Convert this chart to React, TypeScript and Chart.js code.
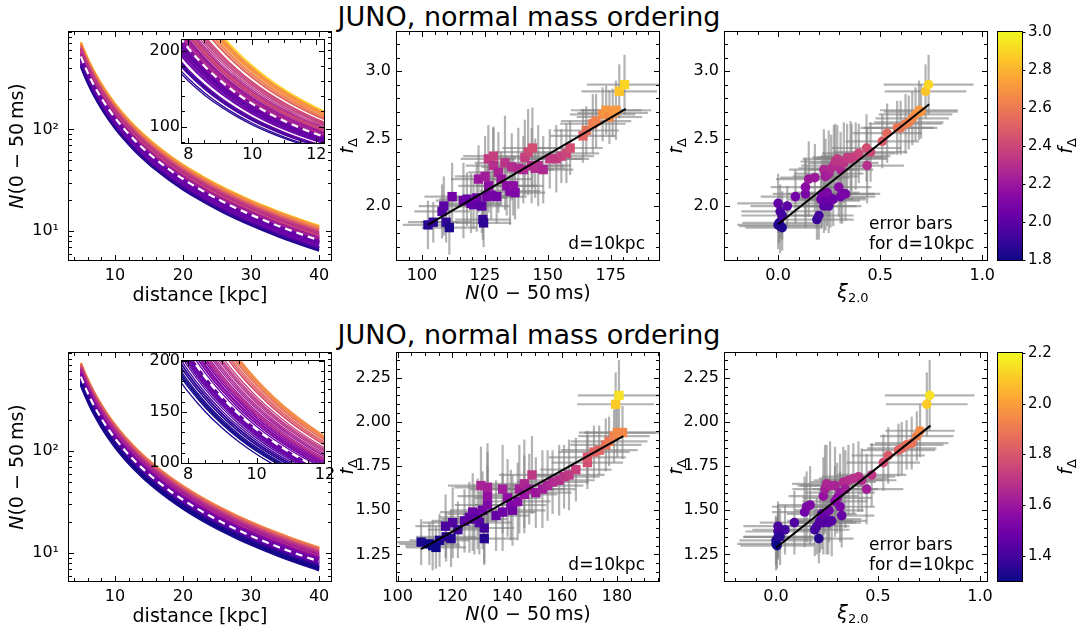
import React, { useEffect, useRef } from 'react';
import { Chart, registerables } from 'chart.js';

Chart.register(...registerables);
const FONT = "'DejaVu Sans', 'Liberation Sans', sans-serif";
Chart.defaults.font.family = FONT;
Chart.defaults.color = '#000';

// ================= DATA: top row (f_Delta range 1.8 - 3.0) =================
const TOP_N = [102.4, 104.5, 108.0, 108.7, 112.0, 109.6, 110.9, 116.5, 117.9, 119.5, 120.5, 121.8, 123.8, 125.8, 127.5, 129.7, 124.2, 124.5, 122.5, 125.1, 126.5, 126.4, 128.4, 128.4, 130.4, 131.5, 133.0, 133.7, 135.7, 135.0, 137.0, 136.3, 138.3, 140.9, 142.2, 143.9, 140.3, 143.6, 145.0, 146.2, 148.2, 150.8, 153.4, 155.4, 157.4, 158.9, 164.0, 165.3, 167.9, 169.2, 171.8, 173.2, 174.5, 175.8, 177.1, 178.4, 180.5];
const TOP_F = [1.86, 1.88, 1.96, 2.00, 2.07, 1.88, 1.84, 2.04, 2.05, 2.02, 2.01, 2.06, 2.00, 2.07, 2.08, 2.07, 1.90, 1.875, 2.20, 2.22, 2.15, 2.35, 2.37, 2.30, 2.25, 2.20, 2.32, 2.15, 2.29, 2.11, 2.10, 2.15, 2.28, 2.36, 2.40, 2.43, 2.27, 2.30, 2.28, 2.30, 2.27, 2.35, 2.35, 2.37, 2.39, 2.43, 2.52, 2.56, 2.61, 2.63, 2.68, 2.71, 2.66, 2.69, 2.71, 2.85, 2.90];
const TOP_N_ERR = [10, 10, 11, 10, 11, 10, 11, 11, 11, 12, 11, 12, 11, 12, 11, 12, 11, 11, 11, 12, 12, 11, 12, 11, 12, 12, 12, 12, 12, 12, 12, 12, 12, 12, 13, 12, 12, 13, 12, 13, 12, 13, 13, 13, 13, 13, 13, 13, 13, 14, 13, 14, 13, 14, 14, 15, 15];
const TOP_F_ERR = [0.18, 0.15, 0.2, 0.22, 0.25, 0.15, 0.2, 0.28, 0.2, 0.22, 0.18, 0.25, 0.2, 0.22, 0.18, 0.2, 0.15, 0.18, 0.25, 0.3, 0.2, 0.25, 0.22, 0.28, 0.3, 0.2, 0.35, 0.22, 0.25, 0.25, 0.2, 0.22, 0.3, 0.28, 0.32, 0.3, 0.25, 0.28, 0.22, 0.3, 0.25, 0.22, 0.25, 0.2, 0.22, 0.2, 0.2, 0.18, 0.22, 0.2, 0.2, 0.18, 0.2, 0.18, 0.22, 0.2, 0.22];
const TOP_XI = [0.00, 0.005, 0.01, 0.02, 0.00, 0.01, 0.02, 0.045, 0.085, 0.134, 0.134, 0.15, 0.18, 0.19, 0.20, 0.21, 0.215, 0.224, 0.232, 0.248, 0.257, 0.24, 0.224, 0.232, 0.248, 0.273, 0.29, 0.297, 0.306, 0.314, 0.33, 0.306, 0.322, 0.338, 0.355, 0.38, 0.395, 0.433, 0.436, 0.453, 0.51, 0.534, 0.583, 0.60, 0.624, 0.64, 0.657, 0.673, 0.69, 0.70, 0.722, 0.737, 0.26, 0.28, 0.36, 0.27];
const TOP_FXI = [1.86, 1.875, 1.85, 1.84, 2.02, 1.96, 1.93, 2.00, 2.07, 2.09, 2.14, 2.20, 2.21, 1.90, 1.93, 2.05, 2.09, 2.00, 2.04, 2.00, 2.06, 2.10, 2.27, 2.22, 2.24, 2.30, 2.35, 2.14, 2.07, 2.09, 2.09, 2.27, 2.32, 2.36, 2.35, 2.37, 2.39, 2.43, 2.30, 2.40, 2.48, 2.54, 2.58, 2.58, 2.61, 2.62, 2.65, 2.68, 2.71, 2.70, 2.85, 2.90, 2.28, 2.33, 2.36, 2.05];
const TOP_XI_ERR = [0.2, 0.18, 0.2, 0.18, 0.2, 0.19, 0.2, 0.18, 0.17, 0.16, 0.17, 0.16, 0.17, 0.18, 0.17, 0.16, 0.17, 0.16, 0.17, 0.16, 0.17, 0.16, 0.17, 0.16, 0.17, 0.16, 0.17, 0.16, 0.17, 0.16, 0.17, 0.16, 0.17, 0.17, 0.18, 0.17, 0.18, 0.17, 0.18, 0.18, 0.18, 0.17, 0.18, 0.18, 0.18, 0.17, 0.18, 0.18, 0.19, 0.18, 0.2, 0.22, 0.16, 0.17, 0.17, 0.16];
const TOP_FXI_ERR = [0.18, 0.15, 0.2, 0.17, 0.22, 0.2, 0.18, 0.15, 0.2, 0.25, 0.22, 0.28, 0.25, 0.15, 0.18, 0.22, 0.25, 0.2, 0.22, 0.2, 0.22, 0.25, 0.3, 0.28, 0.32, 0.3, 0.25, 0.22, 0.2, 0.22, 0.2, 0.28, 0.3, 0.25, 0.28, 0.25, 0.22, 0.25, 0.28, 0.22, 0.2, 0.22, 0.2, 0.2, 0.22, 0.2, 0.2, 0.2, 0.22, 0.2, 0.2, 0.22, 0.25, 0.28, 0.25, 0.2];
const TOP_FIT_N = [102.4, 181.0];
const TOP_FIT_F = [1.86, 2.72];
const TOP_FIT_XI = [0.0, 0.74];
const TOP_FIT_FXI = [1.865, 2.755];
const TOP_MEAN_N10 = 130;
const TOP_CRANGE = [1.8, 3.0];

// ================= DATA: bottom row (f_Delta range 1.3 - 2.2) =================
const BOT_N = [108.6, 111.6, 112.8, 115.3, 117.7, 119.5, 117.5, 120.1, 124.4, 126.2, 127.4, 129.2, 131.0, 129.8, 131.6, 131.6, 132.8, 132.8, 130.4, 132.8, 135.9, 138.3, 138.3, 140.1, 141.3, 141.9, 143.8, 144.4, 146.2, 146.2, 149.0, 148.0, 150.4, 152.8, 154.7, 156.5, 158.9, 160.7, 162.5, 165.0, 169.2, 169.2, 171.6, 173.5, 175.9, 177.1, 178.9, 180.1, 182.0, 179.5, 180.7, 114.0, 122.0, 128.0];
const BOT_F = [1.32, 1.31, 1.30, 1.33, 1.35, 1.34, 1.41, 1.43, 1.44, 1.46, 1.49, 1.48, 1.50, 1.43, 1.40, 1.34, 1.53, 1.58, 1.64, 1.63, 1.47, 1.49, 1.62, 1.57, 1.53, 1.50, 1.55, 1.62, 1.59, 1.65, 1.70, 1.62, 1.60, 1.62, 1.64, 1.66, 1.67, 1.69, 1.70, 1.73, 1.77, 1.80, 1.83, 1.84, 1.87, 1.89, 1.92, 1.94, 1.94, 2.10, 2.15, 1.29, 1.39, 1.45];
const BOT_N_ERR = [10, 11, 10, 11, 11, 11, 11, 11, 12, 11, 12, 11, 12, 12, 11, 12, 12, 11, 12, 12, 12, 12, 12, 12, 13, 12, 12, 13, 12, 13, 12, 13, 13, 12, 13, 13, 13, 13, 13, 13, 13, 14, 13, 14, 13, 14, 13, 14, 14, 14, 15, 11, 11, 12];
const BOT_F_ERR = [0.13, 0.12, 0.14, 0.15, 0.14, 0.16, 0.18, 0.2, 0.18, 0.2, 0.22, 0.2, 0.22, 0.18, 0.2, 0.15, 0.22, 0.25, 0.22, 0.25, 0.2, 0.22, 0.25, 0.22, 0.2, 0.2, 0.22, 0.25, 0.22, 0.25, 0.22, 0.2, 0.2, 0.22, 0.2, 0.18, 0.2, 0.18, 0.2, 0.18, 0.15, 0.15, 0.15, 0.14, 0.15, 0.14, 0.15, 0.14, 0.15, 0.18, 0.2, 0.12, 0.16, 0.2];
const BOT_XI = [0.00, 0.00, 0.01, 0.01, 0.01, 0.02, 0.044, 0.09, 0.14, 0.15, 0.167, 0.19, 0.20, 0.21, 0.215, 0.224, 0.232, 0.248, 0.256, 0.273, 0.232, 0.24, 0.248, 0.265, 0.289, 0.289, 0.314, 0.322, 0.314, 0.33, 0.355, 0.379, 0.404, 0.42, 0.444, 0.469, 0.526, 0.55, 0.60, 0.616, 0.64, 0.665, 0.69, 0.706, 0.739, 0.753, 0.005, 0.26, 0.30, 0.34];
const BOT_FXI = [1.31, 1.33, 1.35, 1.38, 1.41, 1.35, 1.39, 1.43, 1.49, 1.52, 1.53, 1.39, 1.41, 1.34, 1.44, 1.48, 1.43, 1.45, 1.43, 1.44, 1.58, 1.62, 1.65, 1.64, 1.64, 1.55, 1.52, 1.47, 1.60, 1.66, 1.67, 1.68, 1.69, 1.67, 1.62, 1.70, 1.77, 1.81, 1.84, 1.85, 1.87, 1.88, 1.92, 1.95, 2.10, 2.15, 1.30, 1.50, 1.57, 1.62];
const BOT_XI_ERR = [0.19, 0.18, 0.17, 0.16, 0.17, 0.18, 0.16, 0.17, 0.16, 0.17, 0.16, 0.17, 0.16, 0.17, 0.16, 0.17, 0.16, 0.17, 0.16, 0.17, 0.17, 0.16, 0.17, 0.16, 0.17, 0.16, 0.17, 0.16, 0.17, 0.16, 0.17, 0.17, 0.18, 0.17, 0.18, 0.17, 0.18, 0.18, 0.18, 0.17, 0.18, 0.18, 0.18, 0.17, 0.2, 0.22, 0.18, 0.17, 0.17, 0.16];
const BOT_FXI_ERR = [0.15, 0.14, 0.13, 0.15, 0.14, 0.16, 0.14, 0.18, 0.2, 0.2, 0.22, 0.15, 0.16, 0.14, 0.18, 0.2, 0.18, 0.2, 0.18, 0.2, 0.22, 0.25, 0.22, 0.25, 0.22, 0.2, 0.2, 0.18, 0.22, 0.2, 0.2, 0.2, 0.2, 0.18, 0.2, 0.18, 0.16, 0.16, 0.15, 0.15, 0.14, 0.15, 0.14, 0.15, 0.18, 0.2, 0.13, 0.18, 0.2, 0.22];
const BOT_FIT_N = [108.6, 182.3];
const BOT_FIT_F = [1.28, 1.92];
const BOT_FIT_XI = [0.0, 0.757];
const BOT_FIT_FXI = [1.288, 1.979];
const BOT_MEAN_N10 = 133;
const BOT_CRANGE = [1.3, 2.2];

// distance grids for the N(d) curves (counts scale as 1/d^2 from their 10 kpc value)
const REF_D = 10;
const DIST = [5, 5.5, 6, 6.5, 7, 8, 9, 10, 11, 12, 13, 14, 15, 16, 18, 20, 22, 24, 26, 28, 30, 32, 34, 36, 38, 40];
const DIST_INSET = [7.5, 8, 8.5, 9, 9.5, 10, 10.5, 11, 11.5, 12, 12.5];

// tick values / labels
const DIST_TICKS = [10, 20, 30, 40];
const DIST_LABELS = ['10', '20', '30', '40'];
const LOG_TICKS = [10, 100];
const LOG_LABELS = ['10¹', '10²'];
const INSET_X_TICKS = [8, 10, 12];
const INSET_X_LABELS = ['8', '10', '12'];
const TOP_INSET_Y_TICKS = [100, 200];
const TOP_INSET_Y_LABELS = ['100', '200'];
const BOT_INSET_Y_TICKS = [100, 150, 200];
const BOT_INSET_Y_LABELS = ['100', '150', '200'];
const TOP_N_TICKS = [100, 125, 150, 175];
const TOP_N_LABELS = ['100', '125', '150', '175'];
const TOP_F_TICKS = [2.0, 2.5, 3.0];
const TOP_F_LABELS = ['2.0', '2.5', '3.0'];
const BOT_N_TICKS = [100, 120, 140, 160, 180];
const BOT_N_LABELS = ['100', '120', '140', '160', '180'];
const BOT_F_TICKS = [1.25, 1.5, 1.75, 2.0, 2.25];
const BOT_F_LABELS = ['1.25', '1.50', '1.75', '2.00', '2.25'];
const XI_TICKS = [0, 0.5, 1.0];
const XI_LABELS = ['0.0', '0.5', '1.0'];
const TOP_CB_TICKS = [1.8, 2.0, 2.2, 2.4, 2.6, 2.8, 3.0];
const TOP_CB_LABELS = ['1.8', '2.0', '2.2', '2.4', '2.6', '2.8', '3.0'];
const BOT_CB_TICKS = [1.4, 1.6, 1.8, 2.0, 2.2];
const BOT_CB_LABELS = ['1.4', '1.6', '1.8', '2.0', '2.2'];

const TITLE = 'JUNO, normal mass ordering';

// ================= helpers =================
const PLASMA = ['#0d0887', '#41049d', '#6a00a8', '#8f0da4', '#b12a90', '#cc4778', '#e16462', '#f2844b', '#fca636', '#fcce25', '#f0f921'];
function hexToRgb(h: string) {
  const n = parseInt(h.slice(1), 16);
  return [(n >> 16) & 255, (n >> 8) & 255, n & 255];
}
function plasma(t: number) {
  const c = Math.max(0, Math.min(1, t));
  const p = c * (PLASMA.length - 1);
  const i = Math.min(Math.floor(p), PLASMA.length - 2);
  const f = p - i;
  const a = hexToRgb(PLASMA[i]);
  const b = hexToRgb(PLASMA[i + 1]);
  const m = a.map((v, k) => Math.round(v + (b[k] - v) * f));
  return `rgb(${m[0]},${m[1]},${m[2]})`;
}
function steps(a: number, b: number, s: number) {
  const out: number[] = [];
  for (let k = Math.ceil(a / s - 1e-9); k * s <= b + 1e-9; k++) out.push(+(k * s).toFixed(6));
  return out;
}
function logMinor(a: number, b: number) {
  const out: number[] = [];
  for (let e = 0; e < 4; e++) for (let m = 2; m <= 9; m++) { const v = m * Math.pow(10, e); if (v >= a && v <= b) out.push(v); }
  return out;
}
function inverseSquare(n10: number, dists: number[]) {
  return dists.map((d) => ({ x: d, y: n10 * Math.pow(REF_D / d, 2) }));
}

type Seg = { t: string; it?: boolean; sub?: boolean };
type TextItem = { segs: Seg[]; x: number; y: number; size: number; rot?: number; align?: string };
type Box = { x: number; y: number; w: number; h: number; L: number; T: number; R: number; B: number };

function drawRich(ctx: CanvasRenderingContext2D, it: TextItem) {
  const size = it.size;
  const fontFor = (s: Seg) => `${s.it ? 'italic ' : ''}${s.sub ? Math.round(size * 0.7) : size}px ${FONT}`;
  ctx.save();
  ctx.translate(it.x, it.y);
  ctx.rotate(it.rot || 0);
  ctx.textBaseline = 'middle';
  ctx.textAlign = 'left';
  ctx.fillStyle = '#000';
  const widths = it.segs.map((s) => { ctx.font = fontFor(s); return ctx.measureText(s.t).width; });
  const total = widths.reduce((a, b) => a + b, 0);
  let cx = it.align === 'left' ? 0 : it.align === 'right' ? -total : -total / 2;
  it.segs.forEach((s, i) => {
    ctx.font = fontFor(s);
    ctx.fillText(s.t, cx, s.sub ? size * 0.28 : 0);
    cx += widths[i];
  });
  ctx.restore();
}

const errPlugin = {
  id: 'errbars',
  beforeDatasetsDraw(chart: any) {
    const { ctx, chartArea: a } = chart;
    const xs = chart.scales.x, ys = chart.scales.y;
    ctx.save();
    ctx.beginPath();
    ctx.rect(a.left, a.top, a.right - a.left, a.bottom - a.top);
    ctx.clip();
    ctx.strokeStyle = 'rgba(128,128,128,0.6)';
    ctx.lineWidth = 2.2;
    chart.data.datasets.forEach((ds: any) => {
      if (!ds.errX) return;
      ds.data.forEach((p: any, i: number) => {
        const px = xs.getPixelForValue(p.x), py = ys.getPixelForValue(p.y);
        ctx.beginPath();
        ctx.moveTo(xs.getPixelForValue(p.x - ds.errX[i]), py);
        ctx.lineTo(xs.getPixelForValue(p.x + ds.errX[i]), py);
        ctx.stroke();
        ctx.beginPath();
        ctx.moveTo(px, ys.getPixelForValue(p.y - ds.errY[i]));
        ctx.lineTo(px, ys.getPixelForValue(p.y + ds.errY[i]));
        ctx.stroke();
      });
    });
    ctx.restore();
  },
};

type FrameOpts = { xMajor?: number[]; xMinor?: number[]; yMajor: number[]; yMinor?: number[]; cbar?: boolean };
function makeFrame(f: FrameOpts) {
  return {
    id: 'mplFrame',
    afterDraw(chart: any) {
      const { ctx, chartArea: a } = chart;
      const xs = chart.scales.x, ys = chart.scales.y;
      const L = a.left, R = a.right, T = a.top, B = a.bottom;
      ctx.save();
      ctx.strokeStyle = '#000';
      ctx.lineWidth = 1;
      const line = (x1: number, y1: number, x2: number, y2: number) => { ctx.beginPath(); ctx.moveTo(x1, y1); ctx.lineTo(x2, y2); ctx.stroke(); };
      if (f.cbar) {
        f.yMajor.forEach((v) => { const p = Math.round(ys.getPixelForValue(v)) + 0.5; line(R, p, R + 3.5, p); });
      } else {
        const xt = (vals: number[], len: number) => vals.forEach((v) => {
          const p = Math.round(xs.getPixelForValue(v)) + 0.5;
          if (p < L - 0.6 || p > R + 0.6) return;
          line(p, B, p, B - len); line(p, T, p, T + len);
        });
        const yt = (vals: number[], len: number) => vals.forEach((v) => {
          const p = Math.round(ys.getPixelForValue(v)) + 0.5;
          if (p < T - 0.6 || p > B + 0.6) return;
          line(L, p, L + len, p); line(R, p, R - len, p);
        });
        xt(f.xMajor || [], 5); xt(f.xMinor || [], 3); yt(f.yMajor, 5); yt(f.yMinor || [], 3);
      }
      ctx.strokeRect(L - 0.5, T - 0.5, R - L + 1, B - T + 1);
      ctx.restore();
    },
  };
}
function makeText(items: TextItem[], box: Box) {
  return {
    id: 'mplText',
    afterDraw(chart: any) {
      items.forEach((it) => drawRich(chart.ctx, { ...it, x: it.x - box.x, y: it.y - box.y }));
    },
  };
}
const cbarFill = {
  id: 'cbarFill',
  beforeDatasetsDraw(chart: any) {
    const { ctx, chartArea: a } = chart;
    const g = ctx.createLinearGradient(0, a.bottom, 0, a.top);
    PLASMA.forEach((c, i) => g.addColorStop(i / (PLASMA.length - 1), c));
    ctx.save();
    ctx.fillStyle = g;
    ctx.fillRect(a.left, a.top, a.right - a.left, a.bottom - a.top);
    ctx.restore();
  },
};

function axisCfg(type: string, range: number[], ticks: number[], labels: string[], size: number, pad: number, fixed: number, horizontal: boolean, position?: string) {
  return {
    type, min: range[0], max: range[1], position,
    afterBuildTicks: (s: any) => { s.ticks = ticks.map((v) => ({ value: v })); },
    afterFit: (s: any) => {
      if (horizontal) s.height = fixed; else s.width = fixed;
      s.paddingLeft = 0; s.paddingRight = 0; s.paddingTop = 0; s.paddingBottom = 0;
    },
    ticks: { callback: (_v: any, i: number) => labels[i], font: { size, family: FONT }, color: '#000', padding: pad, maxRotation: 0, minRotation: 0, autoSkip: false },
    grid: { display: false, drawTicks: false },
    border: { display: false },
  };
}
function baseOptions(box: Box, x: any, y: any, padLeft = 0) {
  return {
    animation: false, responsive: false, devicePixelRatio: 1, events: [],
    layout: { padding: { left: padLeft, top: box.T, right: padLeft ? 0 : box.R, bottom: padLeft ? box.B : 0 } },
    plugins: { legend: { display: false }, tooltip: { enabled: false }, title: { display: false } },
    scales: { x, y },
  };
}

// ================= panel builders =================
type Row = {
  dy: number; n: number[]; f: number[]; nErr: number[]; fErr: number[];
  xi: number[]; fxi: number[]; xiErr: number[]; fxiErr: number[];
  fitN: number[]; fitF: number[]; fitXi: number[]; fitFxi: number[];
  meanN: number; crange: number[]; cbTicks: number[]; cbLabels: string[];
  nTicks: number[]; nLabels: string[]; fTicks: number[]; fLabels: string[];
  nRange: number[]; fRange: number[]; xiRange: number[]; logRange: number[];
  nMinor: number; fMinor: number;
  insetBox: Box; insetX: number[]; insetY: number[]; insetYTicks: number[]; insetYLabels: string[]; insetYMinor: number;
  y0: number; h: number; T: number; B: number;
};

const F_DELTA: Seg[] = [{ t: 'f', it: true }, { t: 'Δ', sub: true }];
const N_LABEL: Seg[] = [{ t: 'N', it: true }, { t: '(0 − 50\u2009ms)' }];
const XI_LABEL: Seg[] = [{ t: 'ξ', it: true }, { t: '2.0', sub: true }];

function curvesChart(box: Box, r: Row, inset: boolean) {
  const lw = inset ? 1.3 : 2;
  const dists = inset ? DIST_INSET : DIST;
  const curves = r.n.map((n10, i) => ({
    type: 'line', data: inverseSquare(n10, dists), borderColor: plasma((r.f[i] - r.crange[0]) / (r.crange[1] - r.crange[0])),
    borderWidth: lw, pointRadius: 0, fill: false, cubicInterpolationMode: 'monotone',
  }));
  const mean = { type: 'line', data: inverseSquare(r.meanN, dists), borderColor: '#ffffff', borderWidth: 2.2, borderDash: [7, 5], pointRadius: 0, fill: false, cubicInterpolationMode: 'monotone' };
  let x, y, frame, texts: TextItem[];
  if (inset) {
    x = axisCfg('linear', r.insetX, INSET_X_TICKS, INSET_X_LABELS, 16, 2, box.B, true);
    y = axisCfg('linear', r.insetY, r.insetYTicks, r.insetYLabels, 16, 2, box.L, false);
    frame = { xMajor: INSET_X_TICKS, xMinor: steps(r.insetX[0], r.insetX[1], 0.5), yMajor: r.insetYTicks, yMinor: steps(r.insetY[0], r.insetY[1], r.insetYMinor) };
    texts = [];
  } else {
    x = axisCfg('linear', [3.25, 41.75], DIST_TICKS, DIST_LABELS, 16, 6, box.B, true);
    y = axisCfg('logarithmic', r.logRange, LOG_TICKS, LOG_LABELS, 16, 10, box.L, false);
    frame = { xMajor: DIST_TICKS, xMinor: steps(3.25, 41.75, 2), yMajor: LOG_TICKS, yMinor: logMinor(r.logRange[0], r.logRange[1]) };
    texts = [
      { segs: [{ t: 'distance [kpc]' }], x: 200, y: 296 + r.dy, size: 19 },
      { segs: N_LABEL, x: 18, y: 146 + r.dy, size: 19, rot: -Math.PI / 2 },
    ];
  }
  return {
    type: 'scatter',
    data: { datasets: [mean, ...curves] },
    options: baseOptions(box, x, y),
    plugins: [makeFrame(frame), makeText(texts, box)],
  };
}

function scatterChart(box: Box, r: Row, useXi: boolean) {
  const xs = useXi ? r.xi : r.n;
  const ys = useXi ? r.fxi : r.f;
  const xe = useXi ? r.xiErr : r.nErr;
  const ye = useXi ? r.fxiErr : r.fErr;
  const fx = useXi ? r.fitXi : r.fitN;
  const fy = useXi ? r.fitFxi : r.fitF;
  const colors = ys.map((v) => plasma((v - r.crange[0]) / (r.crange[1] - r.crange[0])));
  const xRange = useXi ? r.xiRange : r.nRange;
  const x = useXi
    ? axisCfg('linear', xRange, XI_TICKS, XI_LABELS, 16, 6, box.B, true)
    : axisCfg('linear', xRange, r.nTicks, r.nLabels, 16, 6, box.B, true);
  const y = axisCfg('linear', r.fRange, r.fTicks, r.fLabels, 16, 6, box.L, false);
  const frame = {
    xMajor: useXi ? XI_TICKS : r.nTicks,
    xMinor: steps(xRange[0], xRange[1], useXi ? 0.1 : r.nMinor),
    yMajor: r.fTicks,
    yMinor: steps(r.fRange[0], r.fRange[1], r.fMinor),
  };
  const dy = r.dy;
  const texts: TextItem[] = useXi
    ? [
      { segs: XI_LABEL, x: 853, y: 293 + dy, size: 19 },
      { segs: F_DELTA, x: 677, y: 146 + dy, size: 19, rot: -Math.PI / 2 },
      { segs: [{ t: 'error bars' }], x: 869, y: 225 + dy, size: 17, align: 'left' },
      { segs: [{ t: 'for d=10kpc' }], x: 869, y: 245 + dy, size: 17, align: 'left' },
    ]
    : [
      { segs: N_LABEL, x: 528, y: 294 + dy, size: 19 },
      { segs: F_DELTA, x: 348, y: 146 + dy, size: 19, rot: -Math.PI / 2 },
      { segs: [{ t: 'd=10kpc' }], x: 645, y: 245 + dy, size: 17, align: 'right' },
    ];
  return {
    type: 'scatter',
    data: {
      datasets: [
        { type: 'line', data: fx.map((v, i) => ({ x: v, y: fy[i] })), borderColor: '#000', borderWidth: 2, pointRadius: 0, fill: false },
        {
          type: 'scatter', data: xs.map((v, i) => ({ x: v, y: ys[i] })), errX: xe, errY: ye,
          pointStyle: useXi ? 'circle' : 'rect', pointRadius: useXi ? 4.8 : 6.6,
          pointBackgroundColor: colors, pointBorderColor: colors, pointBorderWidth: 0,
        },
      ],
    },
    options: baseOptions(box, x, y),
    plugins: [errPlugin, makeFrame(frame), makeText(texts, box)],
  };
}

function colorbarChart(box: Box, r: Row) {
  const y = axisCfg('linear', r.crange, r.cbTicks, r.cbLabels, 15, 6, box.R, false, 'right');
  const x = { type: 'linear', display: false, min: 0, max: 1 };
  const texts: TextItem[] = [{ segs: F_DELTA, x: 1067, y: 146 + r.dy, size: 19, rot: -Math.PI / 2 }];
  return {
    type: 'scatter',
    data: { datasets: [] },
    options: baseOptions(box, x, y, box.L),
    plugins: [cbarFill, makeFrame({ yMajor: r.cbTicks, cbar: true }), makeText(texts, box)],
  };
}

const TOP_ROW: Row = {
  dy: 0, n: TOP_N, f: TOP_F, nErr: TOP_N_ERR, fErr: TOP_F_ERR, xi: TOP_XI, fxi: TOP_FXI, xiErr: TOP_XI_ERR, fxiErr: TOP_FXI_ERR,
  fitN: TOP_FIT_N, fitF: TOP_FIT_F, fitXi: TOP_FIT_XI, fitFxi: TOP_FIT_FXI, meanN: TOP_MEAN_N10, crange: TOP_CRANGE,
  cbTicks: TOP_CB_TICKS, cbLabels: TOP_CB_LABELS, nTicks: TOP_N_TICKS, nLabels: TOP_N_LABELS, fTicks: TOP_F_TICKS, fLabels: TOP_F_LABELS,
  nRange: [90.1, 194.2], fRange: [1.6, 3.29], xiRange: [-0.26, 1.023], logRange: [5.2, 905], nMinor: 5, fMinor: 0.1,
  insetBox: { x: 140, y: 28, w: 200, h: 150, L: 42, T: 12, R: 16, B: 35 }, insetX: [7.8, 12.24], insetY: [78.5, 214],
  insetYTicks: TOP_INSET_Y_TICKS, insetYLabels: TOP_INSET_Y_LABELS, insetYMinor: 20,
  y0: 0, h: 315, T: 32, B: 55,
};
const BOT_ROW: Row = {
  dy: 321, n: BOT_N, f: BOT_F, nErr: BOT_N_ERR, fErr: BOT_F_ERR, xi: BOT_XI, fxi: BOT_FXI, xiErr: BOT_XI_ERR, fxiErr: BOT_FXI_ERR,
  fitN: BOT_FIT_N, fitF: BOT_FIT_F, fitXi: BOT_FIT_XI, fitFxi: BOT_FIT_FXI, meanN: BOT_MEAN_N10, crange: BOT_CRANGE,
  cbTicks: BOT_CB_TICKS, cbLabels: BOT_CB_LABELS, nTicks: BOT_N_TICKS, nLabels: BOT_N_LABELS, fTicks: BOT_F_TICKS, fLabels: BOT_F_LABELS,
  nRange: [99.8, 195.3], fRange: [1.10, 2.39], xiRange: [-0.25, 1.034], logRange: [5.35, 907], nMinor: 5, fMinor: 0.05,
  insetBox: { x: 140, y: 349, w: 200, h: 150, L: 42, T: 12, R: 16, B: 36 }, insetX: [7.82, 11.97], insetY: [100, 200],
  insetYTicks: BOT_INSET_Y_TICKS, insetYLabels: BOT_INSET_Y_LABELS, insetYMinor: 10,
  y0: 320, h: 312, T: 33, B: 51,
};

function rowPanels(r: Row) {
  const mk = (x: number, w: number, L: number, R: number): Box => ({ x, y: r.y0, w, h: r.h, L, T: r.T, R, B: r.B });
  const p1 = mk(0, 345, 69, 14);
  const p2 = mk(340, 330, 57, 11);
  const p3 = mk(670, 330, 55, 13);
  const cb = mk(990, 96, 8, 64);
  return [
    { box: p1, make: () => curvesChart(p1, r, false) },
    { box: r.insetBox, make: () => curvesChart(r.insetBox, r, true) },
    { box: p2, make: () => scatterChart(p2, r, false) },
    { box: p3, make: () => scatterChart(p3, r, true) },
    { box: cb, make: () => colorbarChart(cb, r) },
  ];
}
const PANELS = [...rowPanels(TOP_ROW), ...rowPanels(BOT_ROW)];

function ChartBox({ box, make }: { box: Box; make: () => any }) {
  const ref = useRef<HTMLCanvasElement>(null);
  useEffect(() => {
    const chart = new Chart(ref.current as HTMLCanvasElement, make());
    return () => chart.destroy();
  }, []);
  return (
    <canvas ref={ref} width={box.w} height={box.h}
      style={{ position: 'absolute', left: box.x, top: box.y, width: box.w, height: box.h }} />
  );
}

function titleStyle(top: number): React.CSSProperties {
  return { position: 'absolute', left: 0, width: 1058, top, textAlign: 'center', fontFamily: FONT, fontSize: 27, lineHeight: '30px', color: '#000', whiteSpace: 'nowrap' };
}

export default function App() {
  return (
    <div style={{ position: 'absolute', left: 0, top: 0, width: 1086, height: 632, background: '#fff', overflow: 'hidden' }}>
      <div style={titleStyle(2)}>{TITLE}</div>
      <div style={titleStyle(320)}>{TITLE}</div>
      {PANELS.map((p, i) => <ChartBox key={i} box={p.box} make={p.make} />)}
    </div>
  );
}
